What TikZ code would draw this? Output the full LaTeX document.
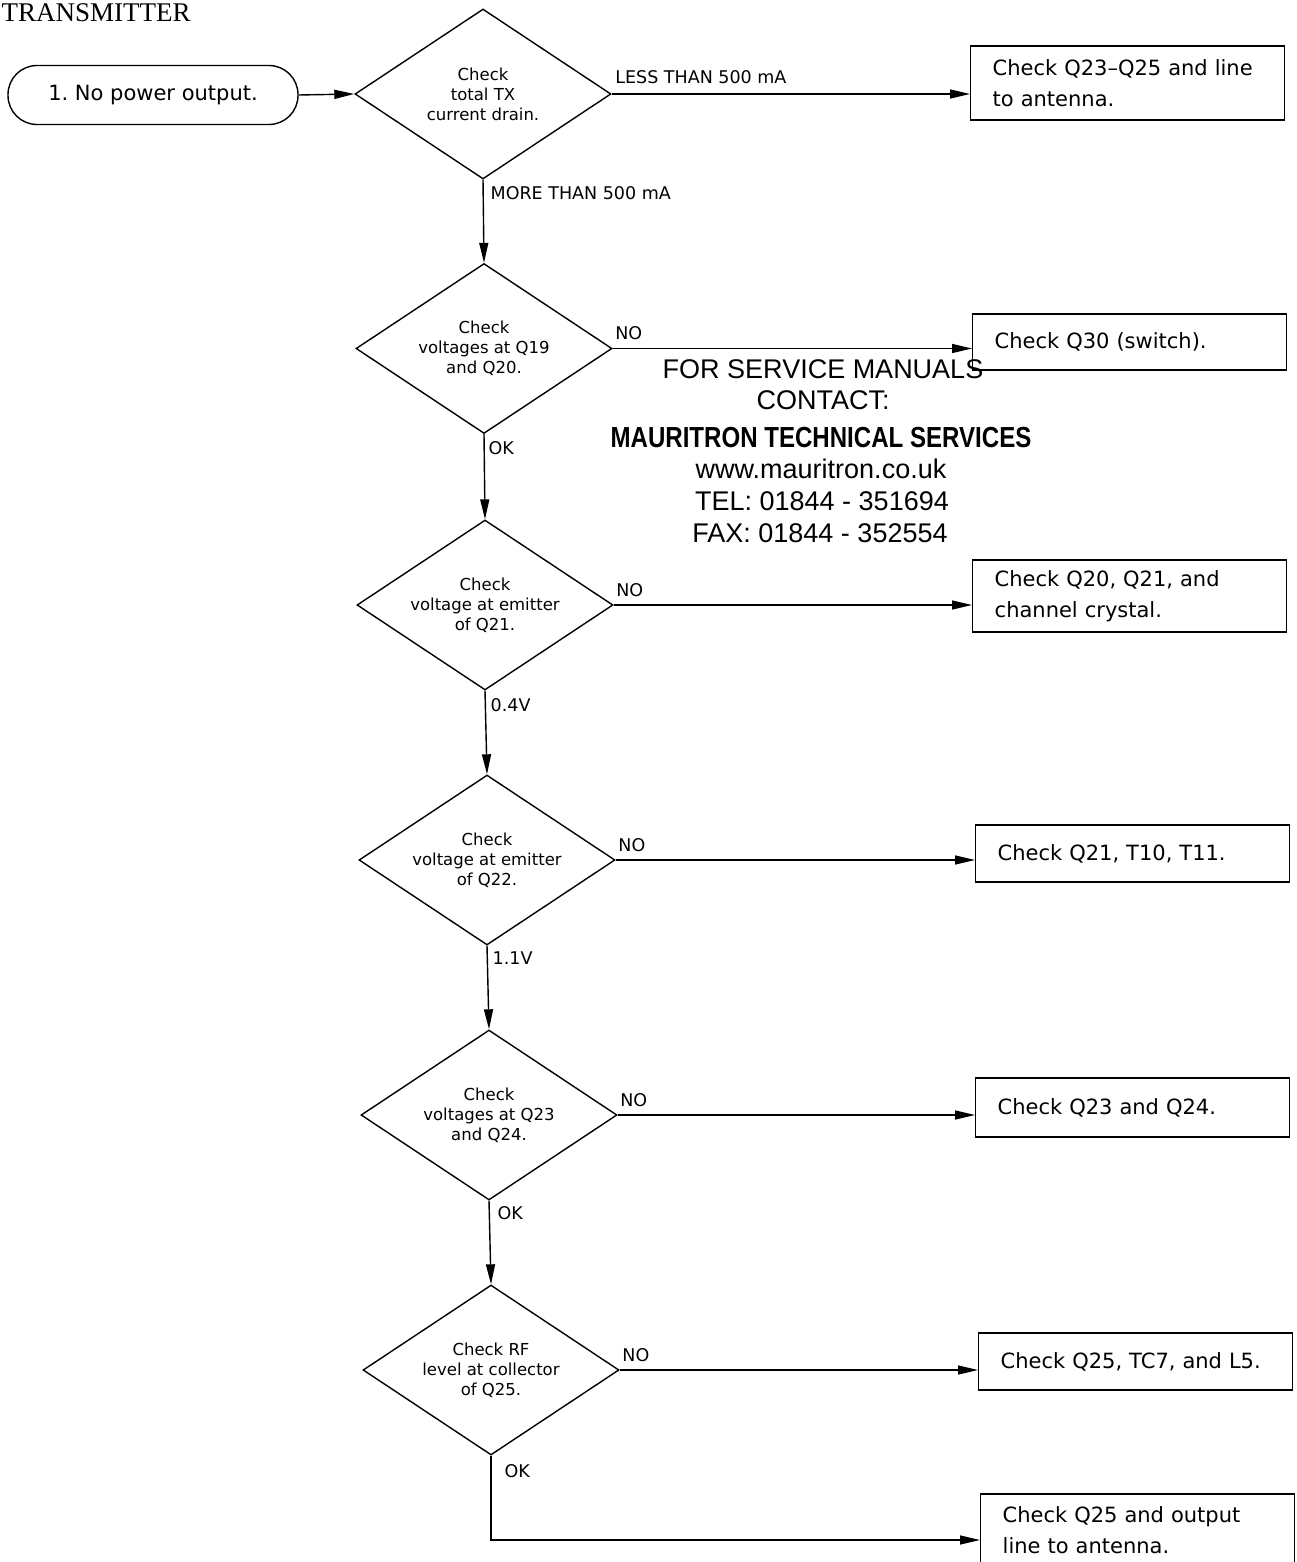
\documentclass[tikz,border=0pt]{standalone}
\usepackage{fontspec}
\usepackage{graphicx}
\setmainfont{DejaVu Sans}
\newfontfamily\wmfont{Liberation Sans}
\newfontfamily\ttlfont{Liberation Serif}
\usetikzlibrary{shapes.geometric,arrows.meta,calc}
\begin{document}
\begin{tikzpicture}[x=1pt,y=-1pt,line width=1.4pt,
  term/.style={draw, rounded corners=29pt, minimum width=290pt, minimum height=59pt, inner sep=0pt, font=\fontsize{21}{25}\selectfont},
  dec/.style={draw, diamond, aspect=1.5, minimum width=256pt, minimum height=170pt, inner sep=0pt, align=center, font=\fontsize{16.5}{20}\selectfont},
  res/.style={draw, rectangle, anchor=west, inner xsep=22pt, inner ysep=0pt, text width=270pt, align=left, font=\fontsize{21}{31}\selectfont},
  lab/.style={inner sep=0pt, font=\fontsize{17.5}{20}\selectfont},
  wm/.style={inner sep=0pt, anchor=base, font=\wmfont\fontsize{27}{27}\selectfont},
  arr/.style={-{Triangle[length=20pt,width=9pt]}}]
\useasboundingbox (0,0) rectangle (1296,1562);
\fill[white] (0,0) rectangle (1296,1562);

\node[anchor=base west, inner sep=0pt, font=\ttlfont\fontsize{27}{27}\selectfont] (title) at (1,22) {TRANSMITTER};

\node[term] (start) at (153,95) {1.\ No power output.};

\node[dec] (d1) at (483,94) {Check\\total TX\\current drain.};
\node[dec] (d2) at (484,348.5) {Check\\voltages at Q19\\and Q20.};
\node[dec] (d3) at (485,605) {Check\\voltage at emitter\\of Q21.};
\node[dec] (d4) at (487,860) {Check\\voltage at emitter\\of Q22.};
\node[dec] (d5) at (489,1115) {Check\\voltages at Q23\\and Q24.};
\node[dec] (d6) at (491,1370) {Check RF\\level at collector\\of Q25.};

\node[res, minimum height=74pt] (b1) at (970,83) {Check Q23--Q25 and line\\to antenna.};
\node[res, minimum height=56pt] (b2) at (972,342) {Check Q30 (switch).};
\node[res, minimum height=72pt] (b3) at (972,596) {Check Q20, Q21, and\\channel crystal.};
\node[res, minimum height=57pt] (b4) at (975,853.5) {Check Q21, T10, T11.};
\node[res, minimum height=59pt] (b5) at (975,1107.5) {Check Q23 and Q24.};
\node[res, minimum height=57pt] (b6) at (978,1361.5) {Check Q25, TC7, and L5.};
\node[res, minimum height=72pt] (b7) at (980,1530) {Check Q25 and output\\line to antenna.};

% connectors
\draw[arr] (start.east) -- (d1.west);
\draw[arr] (d1.east) -- (d1.east -| b1.west);
\draw[arr] (d2.east) -- (d2.east -| b2.west);
\draw[arr] (d3.east) -- (d3.east -| b3.west);
\draw[arr] (d4.east) -- (d4.east -| b4.west);
\draw[arr] (d5.east) -- (d5.east -| b5.west);
\draw[arr] (d6.east) -- (d6.east -| b6.west);
\draw[arr] (d1.south) -- (d2.north);
\draw[arr] (d2.south) -- (d3.north);
\draw[arr] (d3.south) -- (d4.north);
\draw[arr] (d4.south) -- (d5.north);
\draw[arr] (d5.south) -- (d6.north);
\draw[arr] (d6.south) |- ([yshift=-10pt]b7.west);

% labels
\node[lab, anchor=base west] (l1) at ([xshift=3pt,yshift=10pt]d1.east) {LESS THAN 500 mA};
\node[lab, anchor=north west] (l2) at ([xshift=7pt,yshift=-6pt]d1.south) {MORE THAN 500 mA};
\node[lab, anchor=base west] (l3) at ([xshift=2pt,yshift=9pt]d2.east) {NO};
\node[lab, anchor=north west] (l4) at ([xshift=4pt,yshift=-7pt]d2.south) {OK};
\node[lab, anchor=base west] (l5) at ([xshift=2pt,yshift=9pt]d3.east) {NO};
\node[lab, anchor=north west] (l6) at ([xshift=5pt,yshift=-7pt]d3.south) {0.4V};
\node[lab, anchor=base west] (l7) at ([xshift=2pt,yshift=9pt]d4.east) {NO};
\node[lab, anchor=north west] (l8) at ([xshift=5pt,yshift=-5pt]d4.south) {1.1V};
\node[lab, anchor=base west] (l9) at ([xshift=2pt,yshift=9pt]d5.east) {NO};
\node[lab, anchor=north west] (l10) at ([xshift=8pt,yshift=-5pt]d5.south) {OK};
\node[lab, anchor=base west] (l11) at ([xshift=2pt,yshift=9pt]d6.east) {NO};
\node[lab, anchor=north west] (l12) at ([xshift=13pt,yshift=-8pt]d6.south) {OK};

% watermark
\node[wm] (w1) at (823,378) {FOR SERVICE MANUALS};
\node[wm] (w2) at (823,409) {CONTACT:};
\node[wm] (w3) at (821,447) {\scalebox{0.83}[1]{\bfseries\fontsize{29}{29}\selectfont MAURITRON TECHNICAL SERVICES}};
\node[wm] (w4) at (821,478) {www.mauritron.co.uk};
\node[wm] (w5) at (822,510) {TEL: 01844 - 351694};
\node[wm] (w6) at (820,542) {FAX: 01844 - 352554};
\end{tikzpicture}
\end{document}
